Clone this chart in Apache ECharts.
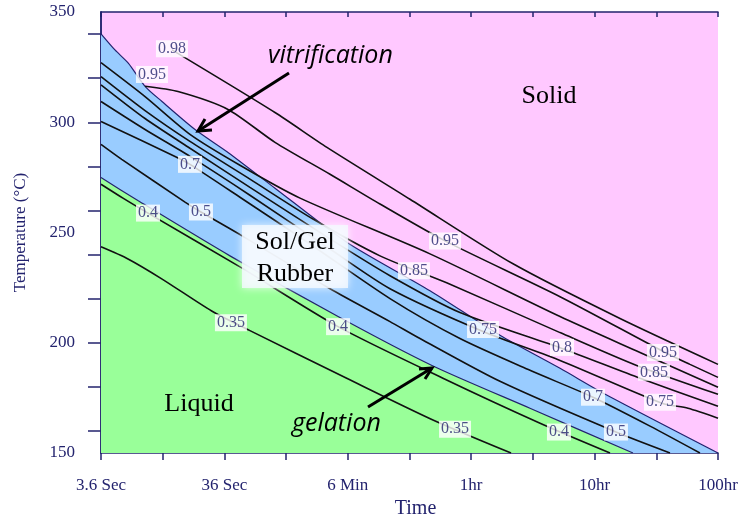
<!DOCTYPE html>
<html><head><meta charset="utf-8">
<script src="https://cdn.jsdelivr.net/npm/echarts@6/dist/echarts.min.js"></script>
<style>html,body{margin:0;padding:0;background:#fff}#c{width:749px;height:524px}</style>
</head><body><div id="c"></div>
<script>
// x = decades of time above 3.6 s, i.e. log10(t / 3.6 s); y = temperature (°C)
const timeTickLabels = ['3.6 Sec', '36 Sec', '6 Min', '1hr', '10hr', '100hr'];
const tempLabelValues = [150, 200, 250, 300, 350];
const tempTickValues = [160, 180, 200, 220, 240, 260, 280, 300, 320, 340];

const vitrification = [[0,340.1],[0.113,332.8],[0.221,326.8],[0.357,316.3],[0.492,309.5],[0.762,296.7],[1.032,286.2],[1.410,270.1],[1.991,245.6],[2.666,223.6],[3.233,203.4],[3.720,188.4],[4.098,176.3],[5.0,150]];
const gelation = [[0,274.9],[0.302,264.4],[1.045,239.4],[1.921,211.9],[2.682,189.7],[3.476,170.3],[4.311,150]];

const c035 = [[0,243.5],[0.219,238.0],[0.492,229.0],[0.897,214.4],[1.207,205.5],[1.991,183.9],[2.690,165.0],[3.323,150]];
const c040 = [[0,271.9],[0.178,265.6],[0.381,258.8],[1.126,234.4],[1.921,207.3],[2.771,183.9],[3.558,163.5],[4.125,150]];
const c050 = [[0,290.0],[0.168,283.2],[0.681,263.8],[0.810,259.3],[1.140,248.6],[1.856,224.5],[2.342,209.6],[2.585,201.9],[3.233,182.5],[4.173,159.5],[4.611,150]];
const c070 = [[0,300.3],[0.600,284.5],[0.721,280.9],[1.126,266.0],[1.694,244.8],[2.342,220.0],[2.909,201.9],[3.476,187.5],[3.987,175.3],[4.449,162.2],[4.854,150]];
const c075 = [[0,309.4],[0.357,296.7],[0.721,284.5],[1.207,266.9],[1.856,242.5],[2.342,224.5],[3.096,205.1],[3.720,192.0],[4.546,172.6],[4.757,170.3],[5.0,165.8]];
const c080 = [[0,317.0],[0.357,301.7],[0.721,288.2],[1.207,270.5],[1.856,247.1],[2.342,230.4],[2.909,213.7],[3.736,197.4],[4.368,183.9],[5.0,171.2]];
const c085 = [[0,320.7],[0.357,305.3],[0.721,291.3],[1.207,274.2],[1.718,256.1],[2.261,239.4],[2.801,227.2],[3.720,204.6],[4.341,189.7],[5.0,176.6]];
const c090 = [[0,327.0],[0.357,311.6],[0.721,294.5],[1.126,280.5],[1.613,265.6],[2.666,240.3],[3.720,211.9],[4.368,195.6],[5.0,179.8]];
const c095 = [[0.357,316.3],[0.624,313.9],[1.029,305.8],[1.410,290.9],[1.856,276.4],[2.261,262.9],[2.788,246.2],[3.720,220.9],[4.571,195.6],[4.773,190.2],[5.0,184.3]];
const c098 = [[0.575,332.8],[1.410,304.4],[1.831,288.6],[2.504,265.1],[3.339,235.8],[4.206,211.0],[5.0,190.2]];

const contourLabels = [
  [0.575,333.3,'0.98'],[0.413,321.6,'0.95'],[2.788,246.2,'0.95'],[4.554,195.6,'0.95'],
  [2.536,232.6,'0.85'],[4.481,186.6,'0.85'],[3.736,197.9,'0.8'],
  [3.096,206.0,'0.75'],[4.530,173.0,'0.75'],[0.721,280.9,'0.7'],[3.987,175.3,'0.7'],
  [0.810,259.3,'0.5'],[4.173,159.5,'0.5'],
  [0.381,258.8,'0.4'],[1.921,207.3,'0.4'],[3.711,159.5,'0.4'],
  [1.053,209.1,'0.35'],[2.869,160.8,'0.35']
];

const contours = [c035, c040, c050, c070, c075, c080, c085, c090, c095, c098];

const NAVY = '#23236e';
const SERIF = 'Liberation Serif';
const SMOOTH = 0.25;
const chart = echarts.init(document.getElementById('c'));

const series = [
  { type:'line', data: vitrification, showSymbol:false, smooth:SMOOTH, z:1,
    lineStyle:{color:NAVY, width:1.2}, areaStyle:{color:'#99ccff', opacity:1, origin:'start'}, silent:true },
  { type:'line', data: gelation, showSymbol:false, smooth:SMOOTH, z:2,
    lineStyle:{color:NAVY, width:1.2}, areaStyle:{color:'#99ff99', opacity:1, origin:'start'}, silent:true }
];
contours.forEach(d => series.push({
  type:'line', data:d, showSymbol:false, smooth:SMOOTH, z:3, silent:true,
  lineStyle:{color:'#111', width:1.6}
}));
series.push({
  type:'scatter', data: contourLabels, symbolSize:1, z:5, silent:true,
  itemStyle:{color:'transparent'},
  label:{show:true, position:'inside', formatter:p => p.value[2], backgroundColor:'#fff',
    padding:[1,2,0,2], color:NAVY, fontFamily:SERIF, fontSize:16}
});

function arrow(tail, tip, a1, a2) {
  return [
    {type:'polyline', z:100, shape:{points:[tail, tip]}, style:{stroke:'#000', lineWidth:3, fill:null}},
    {type:'polyline', z:100, shape:{points:[a1, tip, a2]}, style:{stroke:'#000', lineWidth:3, fill:null}}
  ];
}

chart.setOption({
  animation:false,
  grid:{left:101, right:31, top:12, bottom:69, show:true, backgroundColor:'#ffc8ff', borderWidth:0},
  xAxis:[
    {type:'value', min:0, max:5, interval:0.5, position:'bottom',
     name:'Time', nameLocation:'middle', nameGap:46,
     nameTextStyle:{fontFamily:SERIF, fontSize:20, color:NAVY, padding:[0,0,0,12]},
     axisLine:{show:true, lineStyle:{color:NAVY, width:1.5}},
     axisTick:{show:true, inside:false, length:7, lineStyle:{color:NAVY, width:1.5}},
     axisLabel:{margin:24, fontFamily:SERIF, fontSize:17, color:NAVY,
       formatter: v => (Math.abs(v - Math.round(v)) < 1e-6 ? timeTickLabels[Math.round(v)] : '')},
     splitLine:{show:false}},
    {type:'value', min:0, max:5, interval:0.5, position:'top',
     axisLine:{show:true, lineStyle:{color:NAVY, width:1.5}},
     axisTick:{show:true, inside:true, length:5, lineStyle:{color:NAVY, width:1.5}},
     axisLabel:{show:false}, splitLine:{show:false}}
  ],
  yAxis:[
    {type:'value', min:150, max:350, position:'left',
     name:'Temperature (°C)', nameLocation:'middle', nameRotate:90, nameGap:72,
     nameTextStyle:{fontFamily:SERIF, fontSize:17, color:NAVY},
     axisLine:{show:true, lineStyle:{color:NAVY, width:1.5}},
     axisTick:{show:true, inside:false, length:11, customValues:tempTickValues, lineStyle:{color:NAVY, width:1.5}},
     axisLabel:{customValues:tempLabelValues, margin:26, fontFamily:SERIF, fontSize:17, color:NAVY},
     splitLine:{show:false}},
    {type:'value', min:150, max:350, position:'right',
     axisLine:{show:true, lineStyle:{color:NAVY, width:1.5}},
     axisTick:{show:true, inside:true, length:13, customValues:tempTickValues, lineStyle:{color:NAVY, width:1.5}},
     axisLabel:{show:false}, splitLine:{show:false}}
  ],
  series: series,
  graphic:[
    {type:'rect', z:90, shape:{x:242, y:225, width:106, height:63},
     style:{fill:'rgba(244,249,255,0.82)', shadowBlur:8, shadowColor:'rgba(255,255,255,0.95)'}},
    {type:'text', z:95, style:{text:'Sol/Gel', x:295, y:242, textAlign:'center', textVerticalAlign:'middle', font:'26px "Liberation Serif"', fill:'#000'}},
    {type:'text', z:95, style:{text:'Rubber', x:295, y:274, textAlign:'center', textVerticalAlign:'middle', font:'26px "Liberation Serif"', fill:'#000'}},
    {type:'text', z:95, style:{text:'Solid', x:549, y:96, textAlign:'center', textVerticalAlign:'middle', font:'26px "Liberation Serif"', fill:'#000'}},
    {type:'text', z:95, style:{text:'Liquid', x:199, y:404, textAlign:'center', textVerticalAlign:'middle', font:'26px "Liberation Serif"', fill:'#000'}},
    {type:'text', z:95, style:{text:'vitrification', x:268, y:56, textAlign:'left', textVerticalAlign:'middle', font:'italic 25px "Open Sans"', fill:'#000'}},
    {type:'text', z:95, style:{text:'gelation', x:292, y:424, textAlign:'left', textVerticalAlign:'middle', font:'italic 25px "Open Sans"', fill:'#000'}},
    ...arrow([289,73],[198,131],[212,130],[205,119]),
    ...arrow([368,407],[432,368],[419,369],[425,379])
  ]
});
</script></body></html>
